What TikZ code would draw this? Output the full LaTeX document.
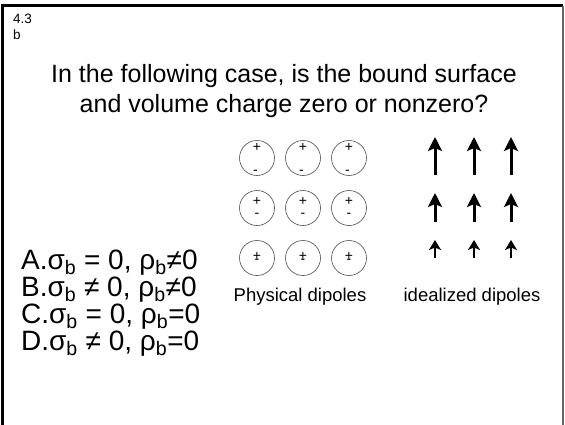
\documentclass[tikz,border=0pt]{standalone}
\usepackage{fontspec}
\setmainfont{Liberation Sans}
\usetikzlibrary{arrows.meta}

\newcommand{\sub}[1]{\textsubscript{#1}}

\begin{document}
\begin{tikzpicture}[
			x=1pt, y=-1pt,
			dipole/.style={circle,draw=black!70,line width=0.6pt,minimum size=35pt,inner sep=0pt},
			sign/.style={font=\fontsize{14}{14}\selectfont,inner sep=0pt,text height=0.6em,text depth=0pt},
			ideal/.style={line width=3pt,-{Stealth[length=14pt,width=14pt,inset=3pt]}},
			answer/.style={anchor=base west,font=\fontsize{28}{28}\selectfont,inner sep=0pt},
			caption/.style={anchor=base,font=\fontsize{18.5}{18.5}\selectfont,inner sep=0pt}
			]
			
			\useasboundingbox (0,0) rectangle (565,424);
			
			% slide frame
			\draw[line width=2.5pt] (2.5,430) -- (2.5,5.5) -- (563,5.5);
			\draw[black!60,line width=1.5pt] (563,5.5) -- (563,430);
			
			\node[anchor=base west,inner sep=0pt,font=\fontsize{13.5}{13.5}\selectfont] (num) at (13,23) {4.3};
			\node[anchor=base west,inner sep=0pt,font=\fontsize{13.5}{13.5}\selectfont] (sub) at (13,39) {b};
			
			\node[align=center,font=\fontsize{25}{30}\selectfont,inner sep=0pt,anchor=base] (question) at (284,112)
				{In the following case, is the bound surface\\and volume charge zero or nonzero?};
			
			% physical dipoles
			\foreach \col/\x in {1/257,2/303,3/349} {
				\node[dipole] (pd-1-\col) at (\x,158) {};
				\node[sign] at ([yshift=10pt]pd-1-\col.center) {+};
				\node[sign] at ([xshift=-1.5pt,yshift=-13pt]pd-1-\col.center) {-};
				\node[dipole] (pd-2-\col) at (\x,208) {};
				\node[sign] at ([yshift=6pt]pd-2-\col.center) {+};
				\node[sign] at ([yshift=-6pt]pd-2-\col.center) {-};
				\node[dipole] (pd-3-\col) at (\x,258) {};
				\node[sign] at ([yshift=1pt]pd-3-\col.center) {+};
				\node[sign] at ([yshift=-2.5pt]pd-3-\col.center) {-};
			}
			\node[caption] (physical) at (300,301) {Physical dipoles};
			
			% idealized dipoles
			\foreach \col/\x in {1/435,2/474,3/511} {
				\coordinate (id-1-\col-tail) at (\x,175);
				\coordinate (id-1-\col-tip) at (\x,137);
				\draw[ideal] (id-1-\col-tail) -- (id-1-\col-tip);
				\coordinate (id-2-\col-tail) at (\x,222);
				\coordinate (id-2-\col-tip) at (\x,193);
				\draw[ideal] (id-2-\col-tail) -- (id-2-\col-tip);
				\coordinate (id-3-\col-tail) at (\x,258);
				\coordinate (id-3-\col-tip) at (\x,240);
				\draw[ideal,line width=2.6pt,-{Stealth[length=10pt,width=12pt,inset=2.5pt]}] (id-3-\col-tail) -- (id-3-\col-tip);
			}
			\node[caption] (idealized) at (472,301) {idealized dipoles};
			
			% choices
			\node[answer] (choice-a) at (21,269) {A.σ\sub{b} = 0, ρ\sub{b}≠0};
			\node[answer] (choice-b) at (21,296) {B.σ\sub{b} ≠ 0, ρ\sub{b}≠0};
			\node[answer] (choice-c) at (21,323) {C.σ\sub{b} = 0, ρ\sub{b}=0};
			\node[answer] (choice-d) at (21,350) {D.σ\sub{b} ≠ 0, ρ\sub{b}=0};
		\end{tikzpicture}
\end{document}
